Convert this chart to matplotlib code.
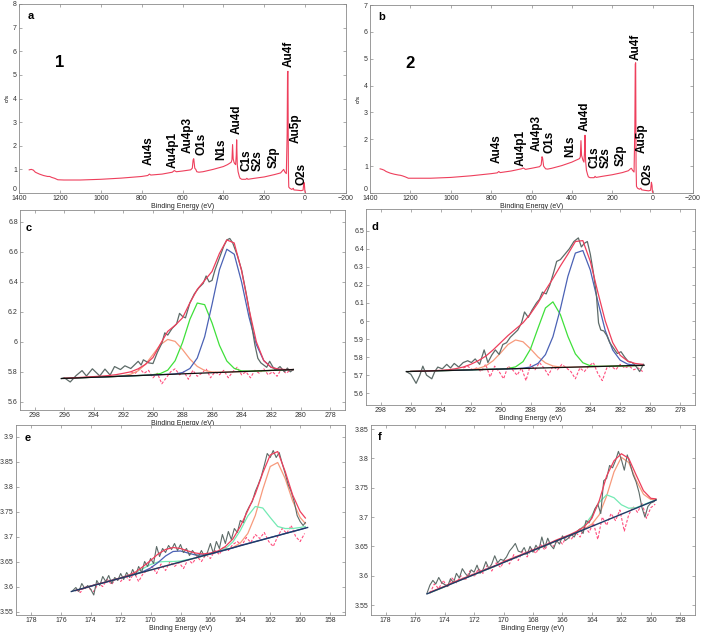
import numpy as np
import matplotlib
matplotlib.use('Agg')
import matplotlib.pyplot as plt
from matplotlib.ticker import FormatStrFormatter

plt.rcParams['font.family'] = ['Liberation Sans', 'DejaVu Sans']

# ---- survey spectra (a, b) ----
a_be = [1350, 1340, 1330, 1320, 1300, 1280, 1260, 1250, 1240, 1225, 1210, 1180, 1100, 1000, 900, 800,
        770, 762, 755, 700, 650, 640, 630, 600, 560, 552, 548, 545, 540, 535, 530, 520, 500, 450, 400,
        380, 362, 358, 355, 352, 348, 345, 340, 337, 335, 332, 328, 322, 318, 310, 290, 285, 280, 250,
        200, 150, 120, 110, 105, 100, 92, 88, 86, 84, 82, 80, 75, 65, 58, 55, 40, 20, 10, 6, 3, 1, -2]
a_cps = [0.98, 1.00, 0.97, 0.88, 0.80, 0.74, 0.70, 0.70, 0.66, 0.62, 0.56, 0.55, 0.55, 0.58, 0.63, 0.70,
         0.74, 0.80, 0.76, 0.80, 0.88, 0.95, 0.90, 0.93, 0.98, 1.05, 1.40, 1.45, 1.05, 1.00, 0.90, 0.88, 0.90, 1.00, 1.12,
         1.20, 1.30, 1.40, 2.05, 1.45, 1.30, 1.25, 1.20, 1.60, 2.25, 1.20, 0.90, 0.70, 0.62, 0.58, 0.58, 0.62, 0.58, 0.62,
         0.68, 0.78, 0.85, 0.95, 1.00, 0.90, 0.82, 2.50, 5.10, 5.15, 1.00, 0.25, 0.20, 0.15, 0.20, 0.13, 0.12, 0.10, 0.12, 0.45, 0.30, 0.05, 0.00]
b_cps = [0.90, 0.88, 0.85, 0.80, 0.74, 0.70, 0.67, 0.66, 0.64, 0.60, 0.55, 0.55, 0.55, 0.58, 0.64, 0.72,
         0.75, 0.80, 0.76, 0.82, 0.90, 0.93, 0.88, 0.92, 0.98, 1.05, 1.35, 1.30, 1.00, 0.95, 0.90, 0.89, 0.92, 1.02, 1.15,
         1.22, 1.28, 1.35, 1.95, 1.40, 1.30, 1.22, 1.15, 1.60, 2.15, 1.20, 0.85, 0.68, 0.60, 0.57, 0.57, 0.62, 0.58, 0.62,
         0.68, 0.76, 0.83, 0.90, 0.92, 0.85, 0.78, 2.50, 4.80, 4.85, 1.00, 0.25, 0.18, 0.14, 0.18, 0.12, 0.10, 0.08, 0.10, 0.40, 0.28, 0.05, 0.00]

peak_names = ['Au4s', 'Au4p1', 'Au4p3', 'O1s', 'N1s', 'Au4d', 'C1s', 'S2s', 'S2p', 'Au4f', 'Au5p', 'O2s']
a_peak_be = [766, 650, 573, 508, 412, 337, 288, 230, 156, 82, 47, 20]
a_peak_y = [1.2, 1.05, 1.7, 1.6, 1.4, 2.5, 0.95, 0.95, 1.05, 5.35, 2.1, 0.35]
b_peak_be = [773, 653, 576, 511, 410, 336, 290, 232, 159, 83, 53, 25]
b_peak_y = [1.1, 1.0, 1.55, 1.5, 1.35, 2.3, 0.93, 0.93, 1.0, 4.95, 1.5, 0.3]

# ---- C1s (c, d) ----
c1s_be = [296.0, 295.5, 295.0, 294.5, 294.0, 293.5, 293.0, 292.5, 292.0, 291.5, 291.0, 290.5, 290.0, 289.5, 289.0, 288.5,
          288.0, 287.5, 287.0, 286.5, 286.0, 285.5, 285.0, 284.5, 284.0, 283.5, 283.0, 282.5, 282.0, 281.5, 281.0, 280.5]

c_bg_be = [296.2, 280.5]
c_bg = [5.755, 5.815]
c_blue = [5.756, 5.758, 5.760, 5.762, 5.764, 5.765, 5.767, 5.769, 5.771, 5.773, 5.775, 5.777, 5.779, 5.781, 5.783, 5.786,
          5.795, 5.822, 5.892, 6.034, 6.250, 6.481, 6.618, 6.585, 6.399, 6.166, 5.981, 5.875, 5.830, 5.816, 5.813, 5.815]
c_green = [5.756, 5.758, 5.760, 5.762, 5.764, 5.765, 5.767, 5.769, 5.771, 5.773, 5.775, 5.777, 5.781, 5.788, 5.811, 5.874,
           5.995, 6.150, 6.259, 6.248, 6.126, 5.977, 5.872, 5.823, 5.806, 5.804, 5.805, 5.807, 5.809, 5.811, 5.813, 5.815]
c_orange = [5.756, 5.758, 5.760, 5.762, 5.764, 5.765, 5.767, 5.769, 5.774, 5.784, 5.807, 5.851, 5.915, 5.981, 6.016, 6.003,
            5.949, 5.885, 5.836, 5.809, 5.799, 5.797, 5.798, 5.800, 5.801, 5.803, 5.805, 5.807, 5.809, 5.811, 5.813, 5.815]
c_fit = [5.757, 5.759, 5.762, 5.765, 5.768, 5.771, 5.775, 5.781, 5.790, 5.800, 5.820, 5.850, 5.895, 5.985, 6.070, 6.110,
         6.160, 6.260, 6.350, 6.410, 6.470, 6.590, 6.680, 6.660, 6.475, 6.220, 6.000, 5.875, 5.830, 5.818, 5.815, 5.815]
c_raw_be = [296.2, 296.0, 295.6, 295.2, 294.8, 294.5, 294.1, 293.6, 293.25, 292.9, 292.6, 292.2, 291.9, 291.5, 291.0,
            290.8, 290.65, 290.3, 290.0, 289.7, 289.4, 289.2, 289.0, 288.7, 288.4, 288.2, 288.0, 287.8, 287.5, 287.2,
            286.9, 286.6, 286.4, 286.2, 286.0, 285.8, 285.5, 285.2, 285.0, 284.8, 284.6, 284.3, 284.0, 283.7, 283.5,
            283.3, 283.1, 282.9, 282.7, 282.5, 282.3, 282.1, 281.9, 281.7, 281.4, 281.1, 280.9, 280.7, 280.5]
c_raw = [5.755, 5.760, 5.732, 5.775, 5.808, 5.772, 5.820, 5.772, 5.818, 5.778, 5.835, 5.815, 5.840, 5.822, 5.870,
         5.845, 5.880, 5.860, 5.855, 5.930, 5.990, 6.060, 6.045, 6.090, 6.120, 6.190, 6.170, 6.160, 6.260, 6.320,
         6.360, 6.390, 6.440, 6.400, 6.410, 6.480, 6.560, 6.640, 6.680, 6.690, 6.660, 6.580, 6.480, 6.330, 6.220,
         6.100, 5.980, 5.890, 5.860, 5.845, 5.830, 5.870, 5.835, 5.810, 5.835, 5.800, 5.825, 5.800, 5.815]
c_res_be = [291.5, 291.2, 290.9, 290.6, 290.3, 290.0, 289.7, 289.4, 289.1, 288.8, 288.5, 288.2, 287.9, 287.6, 287.3,
            287.0, 286.7, 286.4, 286.1, 285.8, 285.5, 285.2, 284.9, 284.6, 284.3, 284.0, 283.7, 283.4, 283.1, 282.8,
            282.5, 282.2, 281.9, 281.6, 281.3, 281.0, 280.7]
c_res = [5.80, 5.79, 5.82, 5.79, 5.81, 5.76, 5.79, 5.72, 5.76, 5.80, 5.82, 5.78, 5.80, 5.75, 5.81,
         5.77, 5.79, 5.82, 5.76, 5.80, 5.78, 5.81, 5.76, 5.80, 5.83, 5.78, 5.80, 5.76, 5.81, 5.79,
         5.82, 5.78, 5.80, 5.77, 5.82, 5.79, 5.81]

d_bg_be = [296.3, 280.4]
d_bg = [5.720, 5.755]
d_blue = [5.721, 5.722, 5.723, 5.724, 5.725, 5.726, 5.727, 5.728, 5.729, 5.731, 5.732, 5.733, 5.734, 5.735, 5.736, 5.739,
          5.745, 5.765, 5.814, 5.913, 6.068, 6.247, 6.376, 6.390, 6.282, 6.109, 5.947, 5.839, 5.783, 5.761, 5.755, 5.754]
d_green = [5.721, 5.722, 5.723, 5.724, 5.725, 5.726, 5.727, 5.728, 5.729, 5.731, 5.732, 5.733, 5.734, 5.737, 5.746, 5.775,
           5.845, 5.960, 6.072, 6.106, 6.035, 5.915, 5.818, 5.769, 5.752, 5.749, 5.749, 5.750, 5.751, 5.752, 5.753, 5.754]
d_orange = [5.721, 5.722, 5.723, 5.724, 5.725, 5.726, 5.727, 5.728, 5.731, 5.737, 5.751, 5.780, 5.823, 5.870, 5.895, 5.885,
            5.846, 5.801, 5.768, 5.751, 5.745, 5.744, 5.745, 5.746, 5.747, 5.748, 5.749, 5.750, 5.751, 5.752, 5.753, 5.754]
d_fit = [5.721, 5.722, 5.723, 5.725, 5.727, 5.730, 5.736, 5.745, 5.760, 5.780, 5.805, 5.840, 5.880, 5.920, 5.955, 5.990,
         6.040, 6.100, 6.170, 6.235, 6.305, 6.370, 6.440, 6.445, 6.330, 6.160, 6.000, 5.880, 5.810, 5.778, 5.765, 5.760]
d_raw_be = [296.3, 296.0, 295.65, 295.4, 295.2, 294.95, 294.6, 294.4, 294.2, 293.9, 293.6, 293.35, 293.1, 292.8, 292.5,
            292.2, 291.95, 291.7, 291.4, 291.1, 290.85, 290.6, 290.35, 290.1, 289.85, 289.6, 289.35, 289.1, 288.85, 288.6,
            288.4, 288.15, 287.9, 287.6, 287.4, 287.2, 286.95, 286.7, 286.45, 286.25, 286.0, 285.7, 285.4, 285.1, 284.8,
            284.6, 284.4, 284.2, 284.0, 283.8, 283.6, 283.45, 283.3, 283.1, 282.9, 282.7, 282.45, 282.2, 281.95, 281.7,
            281.45, 281.2, 280.95, 280.7, 280.45]
d_raw = [5.720, 5.705, 5.655, 5.700, 5.750, 5.700, 5.680, 5.720, 5.745, 5.735, 5.760, 5.740, 5.765, 5.745, 5.770,
         5.780, 5.770, 5.790, 5.760, 5.840, 5.770, 5.810, 5.840, 5.815, 5.870, 5.880, 5.910, 5.930, 5.950, 5.990,
         6.050, 6.020, 6.060, 6.100, 6.120, 6.160, 6.150, 6.200, 6.270, 6.330, 6.340, 6.370, 6.400, 6.440, 6.460,
         6.410, 6.430, 6.440, 6.370, 6.270, 6.150, 5.990, 5.950, 5.945, 5.920, 5.880, 5.850, 5.820, 5.830, 5.800,
         5.775, 5.770, 5.750, 5.720, 5.760]
d_res_be = [292.5, 292.2, 291.9, 291.6, 291.3, 291.0, 290.7, 290.4, 290.1, 289.8, 289.5, 289.2, 288.9, 288.6, 288.3,
            288.0, 287.7, 287.4, 287.1, 286.8, 286.5, 286.2, 285.9, 285.6, 285.3, 285.0, 284.7, 284.4, 284.1, 283.8,
            283.5, 283.2, 282.9, 282.6, 282.3, 282.0, 281.7, 281.4, 281.1, 280.8, 280.5]
d_res = [5.74, 5.75, 5.73, 5.74, 5.72, 5.76, 5.69, 5.75, 5.72, 5.68, 5.75, 5.73, 5.70, 5.74, 5.67,
         5.76, 5.73, 5.77, 5.74, 5.70, 5.75, 5.73, 5.76, 5.74, 5.72, 5.68, 5.74, 5.72, 5.75, 5.77,
         5.71, 5.67, 5.74, 5.75, 5.73, 5.76, 5.74, 5.75, 5.73, 5.74, 5.72]

# ---- S2p (e, f) ----
s2p_be = [175.0, 174.5, 174.0, 173.5, 173.0, 172.5, 172.0, 171.5, 171.0, 170.5, 170.0, 169.5, 169.0, 168.5, 168.0, 167.5,
          167.0, 166.5, 166.0, 165.5, 165.0, 164.5, 164.0, 163.5, 163.0, 162.5, 162.0, 161.5, 161.0, 160.5, 160.0, 159.65]
s2p_raw_be = [175.2, 175.0, 174.8, 174.6, 174.4, 174.2, 174.0, 173.8, 173.6, 173.4, 173.2, 173.0, 172.8, 172.6, 172.4,
              172.2, 172.0, 171.8, 171.6, 171.4, 171.2, 171.0, 170.8, 170.6, 170.4, 170.2, 170.0, 169.8, 169.6, 169.4,
              169.2, 169.0, 168.8, 168.6, 168.4, 168.2, 168.0, 167.8, 167.6, 167.4, 167.2, 167.0, 166.8, 166.6, 166.4,
              166.2, 166.0, 165.8, 165.6, 165.4, 165.2, 165.0, 164.8, 164.6, 164.4, 164.2, 164.0, 163.8, 163.6, 163.4,
              163.2, 163.0, 162.8, 162.6, 162.4, 162.2, 162.0, 161.8, 161.6, 161.4, 161.2, 161.0, 160.8, 160.6, 160.4,
              160.2, 160.0, 159.8, 159.65]
s2p_res_be = [175.0, 174.7, 174.4, 174.1, 173.8, 173.5, 173.2, 172.9, 172.6, 172.3, 172.0, 171.7, 171.4, 171.1, 170.8,
              170.5, 170.2, 169.9, 169.6, 169.3, 169.0, 168.7, 168.4, 168.1, 167.8, 167.5, 167.2, 166.9, 166.6, 166.3,
              166.0, 165.7, 165.4, 165.1, 164.8, 164.5, 164.2, 163.9, 163.6, 163.3, 163.0, 162.7, 162.4, 162.1, 161.8,
              161.5, 161.2, 160.9, 160.6, 160.3, 160.0, 159.7]

e_bg_be = [175.3, 159.5]
e_bg = [3.590, 3.718]
e_orange = [3.592, 3.596, 3.601, 3.605, 3.609, 3.613, 3.617, 3.621, 3.625, 3.629, 3.633, 3.637, 3.641, 3.645, 3.649, 3.653,
            3.657, 3.661, 3.665, 3.669, 3.673, 3.678, 3.687, 3.706, 3.742, 3.794, 3.840, 3.848, 3.816, 3.771, 3.738, 3.726]
e_green = [3.592, 3.596, 3.601, 3.605, 3.609, 3.613, 3.617, 3.622, 3.628, 3.636, 3.644, 3.649, 3.650, 3.650, 3.651, 3.654,
           3.657, 3.661, 3.665, 3.670, 3.676, 3.689, 3.712, 3.741, 3.760, 3.757, 3.738, 3.720, 3.716, 3.716, 3.718, 3.720]
e_blue = [3.592, 3.596, 3.601, 3.605, 3.609, 3.613, 3.617, 3.621, 3.625, 3.630, 3.637, 3.648, 3.661, 3.670, 3.671, 3.667,
          3.663, 3.663, 3.665, 3.669, 3.673, 3.677, 3.682, 3.686, 3.690, 3.694, 3.698, 3.702, 3.706, 3.710, 3.714, 3.717]
e_fit = [3.592, 3.596, 3.601, 3.605, 3.609, 3.613, 3.617, 3.622, 3.629, 3.640, 3.652, 3.665, 3.674, 3.678, 3.676, 3.671,
         3.667, 3.665, 3.667, 3.671, 3.680, 3.695, 3.720, 3.752, 3.785, 3.827, 3.863, 3.870, 3.830, 3.783, 3.750, 3.737]
e_raw = [3.592, 3.598, 3.590, 3.606, 3.596, 3.602, 3.594, 3.583, 3.612, 3.602, 3.620, 3.610, 3.622, 3.606, 3.618,
         3.612, 3.626, 3.614, 3.628, 3.618, 3.634, 3.622, 3.640, 3.628, 3.650, 3.640, 3.656, 3.646, 3.680, 3.660,
         3.676, 3.668, 3.682, 3.674, 3.686, 3.672, 3.684, 3.668, 3.676, 3.662, 3.672, 3.664, 3.660, 3.672, 3.660,
         3.668, 3.686, 3.666, 3.690, 3.676, 3.704, 3.686, 3.710, 3.694, 3.716, 3.708, 3.732, 3.728, 3.748, 3.760,
         3.770, 3.790, 3.804, 3.820, 3.842, 3.866, 3.858, 3.872, 3.858, 3.868, 3.846, 3.826, 3.804, 3.790, 3.770,
         3.742, 3.730, 3.722, 3.728]
e_res = [3.594, 3.588, 3.600, 3.596, 3.590, 3.606, 3.600, 3.614, 3.604, 3.618, 3.610, 3.622, 3.612, 3.628, 3.610,
         3.626, 3.632, 3.640, 3.626, 3.645, 3.632, 3.650, 3.640, 3.648, 3.636, 3.654, 3.646, 3.660, 3.650, 3.664,
         3.656, 3.672, 3.664, 3.680, 3.672, 3.684, 3.690, 3.682, 3.698, 3.688, 3.704, 3.696, 3.708, 3.690, 3.680,
         3.700, 3.716, 3.706, 3.722, 3.700, 3.690, 3.706]

f_bg_be = [175.2, 159.65]
f_bg = [3.569, 3.729]
f_orange = [3.571, 3.576, 3.581, 3.587, 3.592, 3.597, 3.602, 3.607, 3.612, 3.617, 3.623, 3.628, 3.633, 3.638, 3.643, 3.648,
            3.653, 3.659, 3.664, 3.669, 3.674, 3.680, 3.688, 3.704, 3.736, 3.777, 3.802, 3.793, 3.763, 3.739, 3.730, 3.730]
f_green = [3.571, 3.576, 3.581, 3.587, 3.592, 3.597, 3.602, 3.607, 3.612, 3.617, 3.623, 3.628, 3.633, 3.638, 3.643, 3.648,
           3.653, 3.659, 3.664, 3.669, 3.675, 3.686, 3.703, 3.725, 3.738, 3.733, 3.721, 3.715, 3.716, 3.721, 3.726, 3.729]
f_fit = [3.572, 3.577, 3.582, 3.588, 3.593, 3.598, 3.603, 3.608, 3.613, 3.618, 3.624, 3.629, 3.634, 3.639, 3.644, 3.649,
         3.654, 3.660, 3.665, 3.670, 3.676, 3.684, 3.698, 3.728, 3.770, 3.796, 3.808, 3.800, 3.772, 3.745, 3.732, 3.731]
f_raw = [3.570, 3.584, 3.592, 3.586, 3.597, 3.588, 3.585, 3.582, 3.595, 3.588, 3.604, 3.596, 3.612, 3.604, 3.598,
         3.610, 3.606, 3.618, 3.604, 3.610, 3.624, 3.612, 3.620, 3.634, 3.622, 3.628, 3.626, 3.632, 3.642, 3.648,
         3.655, 3.642, 3.640, 3.648, 3.636, 3.650, 3.640, 3.652, 3.644, 3.666, 3.648, 3.664, 3.652, 3.646, 3.660,
         3.654, 3.668, 3.660, 3.664, 3.670, 3.666, 3.676, 3.680, 3.672, 3.694, 3.690, 3.700, 3.714, 3.722, 3.706,
         3.762, 3.766, 3.788, 3.784, 3.796, 3.812, 3.798, 3.780, 3.806, 3.790, 3.772, 3.760, 3.742, 3.716, 3.700,
         3.718, 3.724, 3.726, 3.730]
f_res = [3.570, 3.586, 3.578, 3.592, 3.580, 3.596, 3.588, 3.600, 3.592, 3.608, 3.598, 3.612, 3.604, 3.618, 3.608,
         3.622, 3.614, 3.628, 3.620, 3.636, 3.626, 3.642, 3.632, 3.646, 3.638, 3.654, 3.644, 3.658, 3.650, 3.662,
         3.654, 3.668, 3.662, 3.674, 3.666, 3.684, 3.674, 3.690, 3.662, 3.700, 3.686, 3.706, 3.694, 3.712, 3.676,
         3.704, 3.718, 3.708, 3.724, 3.698, 3.716, 3.722]

# colours
RAW = '#5d6b68'
FIT = '#ee3f5c'
BLUE = '#4b62b5'
LIME = '#3fe03a'
MINT = '#74eab4'
SALMON = '#f79a7c'
RES = '#ff4f7f'


def style(ax, xlim, ylim, xticks, yticks):
    ax.set_xlim(xlim)
    ax.set_ylim(ylim)
    ax.set_xticks(xticks)
    ax.set_yticks(yticks)
    ax.yaxis.set_major_formatter(FormatStrFormatter('%g'))
    ax.tick_params(direction='in', top=True, right=True, length=2.5, width=0.5,
                   color='#8a8a8a', labelcolor='#333333', labelsize=5, pad=1.5)
    for sp in ax.spines.values():
        sp.set_color('#8a8a8a')
        sp.set_linewidth(0.6)
    ax.set_xlabel('Binding Energy (eV)', fontsize=5, labelpad=1, color='#222222')


W, H = 702, 637
fig = plt.figure(figsize=(W / 100, H / 100), dpi=100)


def box(l, t, r, b):
    return [l / W, 1 - b / H, (r - l) / W, (b - t) / H]


survey_ticks = [1400, 1200, 1000, 800, 600, 400, 200, 0, -200]

# panel a / b : survey
for rect, cps, names_be, names_y, ymax, tag, num in [
        (box(19, 4, 346, 193), a_cps, a_peak_be, a_peak_y, 8, 'a', '1'),
        (box(370, 5, 693, 193), b_cps, b_peak_be, b_peak_y, 7, 'b', '2')]:
    ax = fig.add_axes(rect)
    ax.plot(a_be, cps, color=FIT, lw=0.8)
    for name, x, y in zip(peak_names, names_be, names_y):
        ax.text(x, y, name, rotation=90, ha='center', va='bottom', fontsize=8.5, fontweight='bold')
    style(ax, (1400, -200), (0, ymax), survey_ticks, list(range(0, ymax + 1)))
    ax.get_yticklabels()[0].set_va('bottom')
    ax.set_ylabel('c/s', fontsize=4.5, labelpad=2)
    ax.text(0.025, 0.935, tag, transform=ax.transAxes, fontsize=8, fontweight='bold', va='center')
    ax.text(0.11, 0.69, num, transform=ax.transAxes, fontsize=12, fontweight='bold', va='center')

# panel c / d : C1s
for rect, bg_be, bg, blue, green, orange, fit, raw_be, raw, res_be, res, ylim, yt, tag in [
        (box(20, 210, 345, 410), c_bg_be, c_bg, c_blue, c_green, c_orange, c_fit, c_raw_be, c_raw,
         c_res_be, c_res, (5.545, 6.88), [5.6, 5.8, 6.0, 6.2, 6.4, 6.6, 6.8], 'c'),
        (box(366, 209, 695, 405), d_bg_be, d_bg, d_blue, d_green, d_orange, d_fit, d_raw_be, d_raw,
         d_res_be, d_res, (5.535, 6.62), [5.6, 5.7, 5.8, 5.9, 6.0, 6.1, 6.2, 6.3, 6.4, 6.5], 'd')]:
    ax = fig.add_axes(rect)
    ax.plot(res_be, res, color=RES, lw=0.8, ls=(0, (2.5, 1.5)))
    ax.plot(c1s_be, orange, color=SALMON, lw=0.9)
    ax.plot(c1s_be, green, color=LIME, lw=0.9)
    ax.plot(c1s_be, blue, color=BLUE, lw=0.9)
    ax.plot(raw_be, raw, color=RAW, lw=0.9)
    ax.plot(c1s_be, fit, color=FIT, lw=0.9)
    ax.plot(bg_be, bg, color='#111111', lw=0.9)
    style(ax, (299, 277), ylim, [298, 296, 294, 292, 290, 288, 286, 284, 282, 280, 278], yt)
    ax.text(0.018, 0.91, tag, transform=ax.transAxes, fontsize=8, fontweight='bold', va='center')

# panel e : S2p sample 1
ax = fig.add_axes(box(16, 425, 345, 615))
ax.plot(s2p_res_be, e_res, color=RES, lw=0.8, ls=(0, (2.5, 1.5)))
ax.plot(s2p_be, e_orange, color=SALMON, lw=0.9)
ax.plot(s2p_be, e_green, color=MINT, lw=0.9)
ax.plot(s2p_be, e_blue, color=BLUE, lw=0.9)
ax.plot(s2p_raw_be, e_raw, color=RAW, lw=0.8)
ax.plot(s2p_be, e_fit, color=FIT, lw=0.9)
ax.plot(e_bg_be, e_bg, color='#1f3a66', lw=1.0)
style(ax, (179, 157), (3.543, 3.923), [178, 176, 174, 172, 170, 168, 166, 164, 162, 160, 158],
      [3.55, 3.6, 3.65, 3.7, 3.75, 3.8, 3.85, 3.9])
ax.text(0.025, 0.93, 'e', transform=ax.transAxes, fontsize=8, fontweight='bold', va='center')

# panel f : S2p sample 2
ax = fig.add_axes(box(371, 425, 695, 615))
ax.plot(s2p_res_be, f_res, color=RES, lw=0.8, ls=(0, (2.5, 1.5)))
ax.plot(s2p_be, f_orange, color=SALMON, lw=0.9)
ax.plot(s2p_be, f_green, color=MINT, lw=0.9)
ax.plot(s2p_raw_be, f_raw, color=RAW, lw=0.8)
ax.plot(s2p_be, f_fit, color=FIT, lw=0.9)
ax.plot(f_bg_be, f_bg, color='#1f3a66', lw=1.0)
style(ax, (179, 157), (3.533, 3.857), [178, 176, 174, 172, 170, 168, 166, 164, 162, 160, 158],
      [3.55, 3.6, 3.65, 3.7, 3.75, 3.8, 3.85])
ax.text(0.022, 0.935, 'f', transform=ax.transAxes, fontsize=8, fontweight='bold', va='center')

fig.savefig('out.png', dpi=100)
